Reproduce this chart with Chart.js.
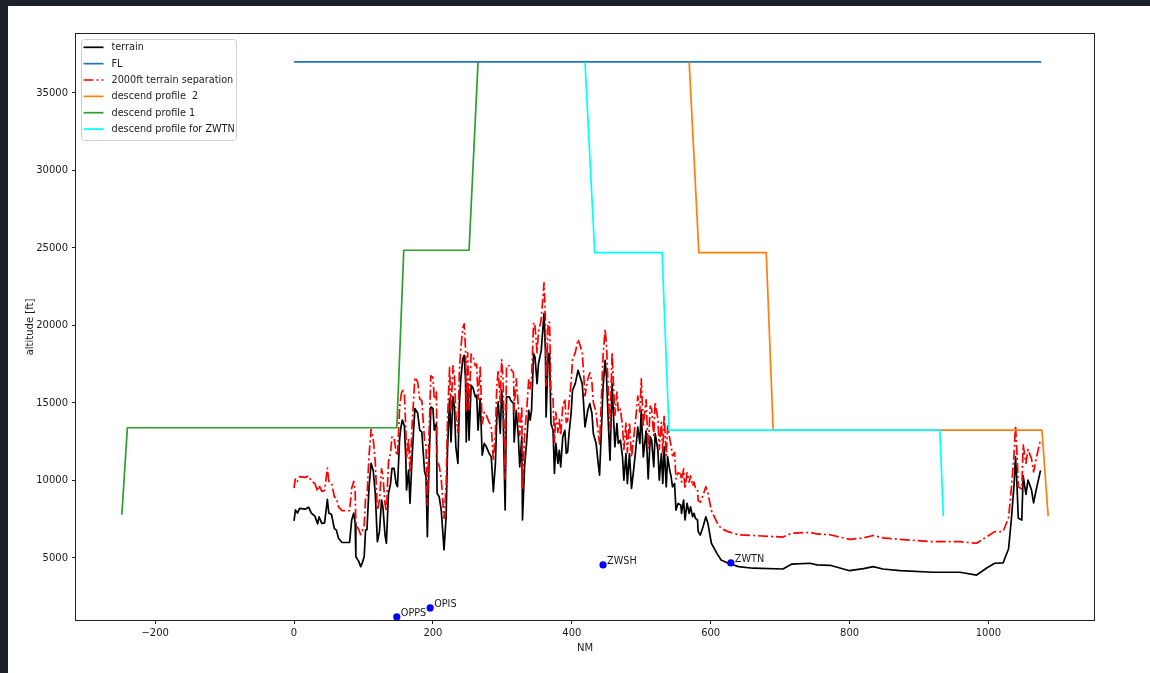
<!DOCTYPE html>
<html><head><meta charset="utf-8">
<script src="https://cdn.jsdelivr.net/npm/chart.js@4.4.1/dist/chart.umd.min.js"></script>
<style>
html,body{margin:0;padding:0;background:#1c2028;width:1150px;height:673px;overflow:hidden;}
#panel{position:absolute;left:8px;top:6px;right:0;bottom:0;background:#fff;}
#c{position:absolute;left:0;top:0;}
</style></head><body>
<div id="panel"></div>
<canvas id="c" width="1150" height="673"></canvas>
<script>
// ---------- data ----------
const terrainNM = [0,2,5,8,16,21,25,30,34,36,40,44,48,50,54,58,61,64,69,80,83,86,88,89,93,96,98,101,103,105,108,111,114,117,120,123,126,128,131,133,136,139,141,144,147,149,152,154,156,159,161,162,165,167,170,174,178,181,184,188,190,192,194,197,200,202,205,206,209,212,214,216,219,221,224,226,229,231,233,236,238,240,243,245,247,248,250,252,255,258,261,263,265,268,271,274,277,281,284,287,290,292,294,297,299,301,304,306,310,312,316,317,320,323,325,328,329,332,335,338,340,342,345,347,350,352,356,360,362,363,366,368,370,373,375,377,380,382,384,387,390,392,394,396,399,401,405,409,412,415,417,419,423,426,429,431,435,438,440,443,445,448,450,453,455,458,462,465,467,470,473,475,478,480,483,486,489,492,495,498,500,503,507,510,513,515,518,520,524,526,529,531,533,536,538,541,543,545,548,550,553,557,558,561,563,566,569,571,574,576,578,581,582,585,589,593,596,601,609,615,625,633,640,661,704,717,743,753,772,800,820,834,848,873,920,959,983,997,1009,1021,1029,1033,1037,1039,1041,1043,1048,1050,1054,1057,1062,1065,1069,1075];
const terrainFt = [7400,8100,7900,8200,8150,8280,7900,7700,7200,7650,7230,7260,8780,7900,7800,6900,6800,6270,6000,6000,7450,7900,7250,5080,4800,4440,4650,5080,6800,6830,9590,11100,10650,9170,6050,6700,8740,8300,6480,5950,9170,9800,10780,10780,9800,9600,12700,13450,13900,13500,11300,9380,10670,8520,11520,14640,14350,13240,13130,10560,10240,6370,10450,14740,14640,13240,13670,9170,8950,8090,6800,5520,7660,11950,15280,12490,15390,14740,12170,11100,14960,16460,17860,18070,16460,12490,16250,12600,16140,15930,15390,15500,13240,15280,11630,12390,12170,11740,11520,9270,11100,14100,15070,13030,15820,14530,8090,15390,15390,15180,14960,12490,14530,12820,10880,12820,7450,10900,12500,14530,13890,14530,18180,17960,16250,17530,18390,20760,18390,14100,18180,18180,13670,13240,10450,12390,11100,11950,10880,12820,13240,11740,11840,13030,14320,15820,16250,17110,16680,16250,14960,13460,14530,14960,14320,13030,12390,11100,10350,13670,16040,17750,16680,13240,11310,16250,12170,13670,12390,12600,11520,10020,11740,9800,11740,9490,10670,11950,13450,12390,14530,11520,13200,10100,12820,12600,10880,13030,11950,10020,11740,9800,12170,9590,11520,10670,10240,9590,9800,8090,8520,8410,7880,8740,7450,8520,7880,8300,7660,7880,7560,7450,6700,6480,7020,7660,7230,5950,5300,4870,4660,4550,4440,4340,4290,4610,4660,4560,4530,4180,4310,4440,4290,4180,4080,4080,3900,4340,4660,4680,5600,7500,9800,11520,9800,7560,7450,10300,9100,10020,9400,8550,9450,10650];
const separationFt = [9500,10150,9950,10250,10200,10300,9950,9800,9300,9700,9300,9350,10800,9950,9850,8950,8850,8300,8050,8050,9500,9950,9300,7150,6850,6500,6700,7100,8850,8900,11600,13300,12700,11200,8100,8700,10750,10300,8500,8000,11200,11800,12800,12800,11800,11600,14700,15450,15900,15500,13300,11400,12700,10500,13500,16650,16350,15250,15150,12550,12250,8400,12450,16750,16650,15250,15700,11200,10950,10100,8800,7550,9650,13950,17300,14500,17400,16750,14200,13100,16950,18450,19850,20100,18450,14500,18250,14600,18150,17950,17400,17500,15250,17300,13650,14400,14200,13750,13500,11300,13100,16100,17100,15050,17800,16550,10100,17400,17400,17200,16950,14500,16550,14800,12900,14800,9500,12900,14500,16550,15900,16550,20200,19950,18250,19550,20400,22750,20400,16100,20200,20200,15700,15250,12450,14400,13100,13950,12900,14800,15250,13750,13850,15050,16300,17800,18250,19100,18700,18250,16950,15450,16550,16950,16300,15050,14400,13100,12350,15700,18050,19750,18700,15250,13300,18250,14200,15700,14400,14600,13500,12000,13750,11800,13750,11500,12700,13950,15450,14400,16550,13500,15200,12100,14800,14600,12900,15050,13950,12000,13750,11800,14200,11600,13500,12700,12250,11600,11800,10100,10500,10400,9900,10750,9450,10500,9900,10300,9650,9900,9550,9450,8700,8600,9050,9600,9200,8050,7300,6900,6700,6600,6500,6450,6350,6600,6650,6550,6500,6200,6300,6450,6300,6200,6050,6050,5950,6350,6700,6700,7600,9500,11800,13550,11800,9600,9450,12300,11100,12000,11400,10550,11450,12650];

const flNM = [0, 1076];
const flFt = [37000, 37000];
const profile2NM = [569, 583, 680, 690, 1077, 1086];
const profile2Ft = [37000, 24700, 24700, 13250, 13250, 7700];
const profile1NM = [-248, -240, 148, 158, 252, 265];
const profile1Ft = [7800, 13400, 13400, 24850, 24850, 37000];
const zwtnNM = [419, 433, 530, 540, 930, 935];
const zwtnFt = [37000, 24700, 24700, 13250, 13250, 7700];

const airportNames = ['OPPS', 'OPIS', 'ZWSH', 'ZWTN'];
const airportNM = [148, 196, 445, 629];
const airportFt = [1200, 1780, 4550, 4680];

const xTicks = [-200, 0, 200, 400, 600, 800, 1000];
const yTicks = [5000, 10000, 15000, 20000, 25000, 30000, 35000];

// ---------- helpers ----------
const pts = (xs, ys) => xs.map((x, i) => ({x: x, y: ys[i]}));
const FONT = 'DejaVu Sans';
const TXT = '#1a1a1a';
const DASHDOT = [10, 3, 2, 3];

const lineDs = (label, xs, ys, color, order, dash) => ({
  label, data: pts(xs, ys), borderColor: color, backgroundColor: color,
  borderWidth: 1.7, pointRadius: 0, tension: 0, fill: false, order,
  borderDash: dash || [], borderJoinStyle: 'round'
});

const datasets = [
  lineDs('terrain', terrainNM, terrainFt, '#000000', 6),
  lineDs('FL', flNM, flFt, '#1f77b4', 5),
  lineDs('2000ft terrain separation', terrainNM, separationFt, '#ff0000', 4, DASHDOT),
  lineDs('descend profile  2', profile2NM, profile2Ft, '#ff7f0e', 3),
  lineDs('descend profile 1', profile1NM, profile1Ft, '#2ca02c', 2),
  lineDs('descend profile for ZWTN', zwtnNM, zwtnFt, '#00ffff', 1),
  {label: 'airports', data: pts(airportNM, airportFt), showLine: false, pointRadius: 3.6,
   pointBackgroundColor: '#0000ff', pointBorderWidth: 0, backgroundColor: '#0000ff', borderColor: '#0000ff', order: 0, isAirport: true}
];

const fmt = v => String(v).replace('-', '\u2212');

const framePlugin = {
  id: 'frame',
  afterDraw(chart) {
    const a = chart.chartArea, ctx = chart.ctx;
    ctx.save();
    ctx.strokeStyle = '#222';
    ctx.lineWidth = 1;
    ctx.strokeRect(Math.round(a.left) - 0.5, Math.round(a.top) - 0.5, Math.round(a.right - a.left) + 1, Math.round(a.bottom - a.top) + 1);
    ctx.restore();
  }
};

const annotPlugin = {
  id: 'annot',
  afterDatasetsDraw(chart) {
    const ctx = chart.ctx, a = chart.chartArea;
    ctx.save();
    // airport labels
    const idx = chart.data.datasets.findIndex(d => d.isAirport);
    const meta = chart.getDatasetMeta(idx);
    ctx.font = '9.7px "' + FONT + '"';
    ctx.fillStyle = TXT;
    ctx.textBaseline = 'alphabetic';
    ctx.textAlign = 'left';
    meta.data.forEach((p, i) => { ctx.fillText(airportNames[i], p.x + 4, p.y - 1); });

    // legend (matplotlib style, inside axes upper-left)
    const items = chart.data.datasets.filter(d => !d.isAirport);
    const bx = a.left + 5.5, by = a.top + 5.5, bw = 155, bh = 101, r = 3;
    ctx.beginPath();
    ctx.moveTo(bx + r, by); ctx.lineTo(bx + bw - r, by); ctx.arcTo(bx + bw, by, bx + bw, by + r, r);
    ctx.lineTo(bx + bw, by + bh - r); ctx.arcTo(bx + bw, by + bh, bx + bw - r, by + bh, r);
    ctx.lineTo(bx + r, by + bh); ctx.arcTo(bx, by + bh, bx, by + bh - r, r);
    ctx.lineTo(bx, by + r); ctx.arcTo(bx, by, bx + r, by, r);
    ctx.closePath();
    ctx.fillStyle = 'rgba(255,255,255,0.8)';
    ctx.fill();
    ctx.strokeStyle = '#d0d0d0'; ctx.lineWidth = 1; ctx.stroke();
    ctx.textBaseline = 'middle';
    items.forEach((d, i) => {
      const y = a.top + 13.3 + i * 16.35;
      ctx.beginPath();
      ctx.setLineDash(d.borderDash || []);
      ctx.strokeStyle = d.borderColor; ctx.lineWidth = 1.7;
      ctx.moveTo(a.left + 7.5, y); ctx.lineTo(a.left + 27.5, y); ctx.stroke();
      ctx.setLineDash([]);
      ctx.fillStyle = TXT;
      ctx.fillText(d.label, a.left + 35.5, y + 0.5);
    });
    ctx.restore();
  }
};

new Chart(document.getElementById('c'), {
  type: 'line',
  data: {datasets},
  options: {
    responsive: false, animation: false, devicePixelRatio: 1,
    layout: {padding: {left: 20, top: 34, right: 56, bottom: 15}},
    plugins: {legend: {display: false}, tooltip: {enabled: false}},
    scales: {
      x: {
        type: 'linear', min: -314, max: 1152,
        afterBuildTicks: s => { s.ticks = xTicks.map(v => ({value: v})); },
        afterFit: s => { s.height = 38; },
        grid: {display: true, drawOnChartArea: false, drawTicks: true, tickLength: 4, color: '#222', lineWidth: 1},
        border: {display: false},
        ticks: {padding: 3, color: TXT, font: {family: FONT, size: 10}, maxRotation: 0, autoSkip: false, callback: v => fmt(v)},
        title: {display: true, text: 'NM', color: TXT, font: {family: FONT, size: 10}, padding: {top: 2, bottom: 4}}
      },
      y: {
        type: 'linear', min: 1000, max: 38800,
        afterBuildTicks: s => { s.ticks = yTicks.map(v => ({value: v})); },
        afterFit: s => { s.width = 56; },
        grid: {display: true, drawOnChartArea: false, drawTicks: true, tickLength: 4, color: '#222', lineWidth: 1},
        border: {display: false},
        ticks: {padding: 4, color: TXT, font: {family: FONT, size: 10}, autoSkip: false, callback: v => fmt(v)},
        title: {display: true, text: 'altitude [ft]', color: TXT, font: {family: FONT, size: 10}, padding: {top: 4, bottom: 4}}
      }
    }
  },
  plugins: [framePlugin, annotPlugin]
});
</script>
</body></html>
